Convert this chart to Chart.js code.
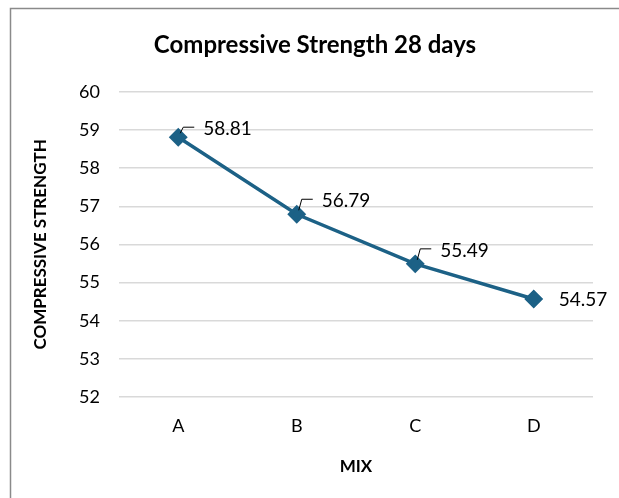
<!DOCTYPE html>
<html><head><meta charset="utf-8">
<script src="https://cdn.jsdelivr.net/npm/chart.js@4/dist/chart.umd.min.js"></script>
<style>
html,body{margin:0;padding:0;background:#fff;overflow:hidden;}
canvas{display:block;}
</style></head>
<body><canvas id="c" width="619" height="498"></canvas>
<script>
const categories = ['A','B','C','D'];
const strength = [58.81, 56.79, 55.49, 54.57];
const yTicks = [52,53,54,55,56,57,58,59,60];
const labelDy = [-8,-13,-13,1];
const leader = [true,true,true,false];

const FONT = 'Lato, "Open Sans", sans-serif';
const lineColor = '#1C6186';

const framePlugin = {
  id:'frame',
  beforeDraw(chart){
    const ctx = chart.ctx;
    ctx.save();
    ctx.fillStyle = '#fff';
    ctx.fillRect(0,0,chart.width,chart.height);
    ctx.strokeStyle = '#8a8a8a';
    ctx.lineWidth = 1.5;
    ctx.beginPath();
    ctx.moveTo(10.5, chart.height);
    ctx.lineTo(10.5, 8.5);
    ctx.lineTo(chart.width, 8.5);
    ctx.stroke();
    ctx.restore();
  }
};

const labelPlugin = {
  id:'dl',
  afterDatasetsDraw(chart){
    const ctx = chart.ctx;
    const meta = chart.getDatasetMeta(0);
    ctx.save();
    ctx.font = '19px ' + FONT;
    ctx.fillStyle = '#000';
    ctx.textBaseline = 'middle';
    ctx.textAlign = 'left';
    meta.data.forEach((pt,i)=>{
      const x = pt.x, y = pt.y;
      const ty = y + labelDy[i];
      if (leader[i]) {
        ctx.strokeStyle = '#000';
        ctx.lineWidth = 1;
        ctx.beginPath();
        ctx.moveTo(x+2, y-4);
        ctx.lineTo(x+5, ty-2);
        ctx.lineTo(x+16, ty-2);
        ctx.stroke();
      }
      ctx.fillText(chart.data.datasets[0].data[i].toFixed(2), x+25, ty);
    });
    ctx.restore();
  }
};

new Chart(document.getElementById('c'), {
  type:'line',
  data:{labels:categories, datasets:[{
    data:strength,
    borderColor:lineColor, backgroundColor:lineColor,
    borderWidth:3.5, pointStyle:'rectRot', pointRadius:7, pointHoverRadius:7,
    tension:0, fill:false
  }]},
  options:{
    responsive:false, animation:false, devicePixelRatio:1,
    layout:{padding:{left:37,right:26,top:0,bottom:0}},
    plugins:{
      legend:{display:false}, tooltip:{enabled:false},
      title:{display:true, text:'Compressive Strength 28 days', color:'#000',
        font:{family:FONT, size:24, weight:'bold'}, padding:{top:31,bottom:32}}
    },
    scales:{
      x:{
        offset:true,
        grid:{display:false, drawTicks:false},
        border:{display:false},
        ticks:{color:'#000', font:{family:FONT,size:18}, padding:18},
        title:{display:true, text:'MIX', color:'#000', font:{family:FONT,size:17,weight:'bold'}, padding:{top:0,bottom:21}},
        afterFit(s){ s.height = 101; }
      },
      y:{
        min:52, max:60,
        afterBuildTicks(s){ s.ticks = yTicks.map(v=>({value:v})); },
        grid:{color:'#d9d9d9', lineWidth:1.5, drawTicks:false},
        border:{display:false},
        ticks:{color:'#000', font:{family:FONT,size:18}, padding:19},
        title:{display:true, text:'COMPRESSIVE STRENGTH', color:'#000', font:{family:FONT,size:17,weight:'bold'}, padding:{top:-7,bottom:0}},
        afterFit(s){ s.width = 82; }
      }
    }
  },
  plugins:[framePlugin, labelPlugin]
});
</script></body></html>
